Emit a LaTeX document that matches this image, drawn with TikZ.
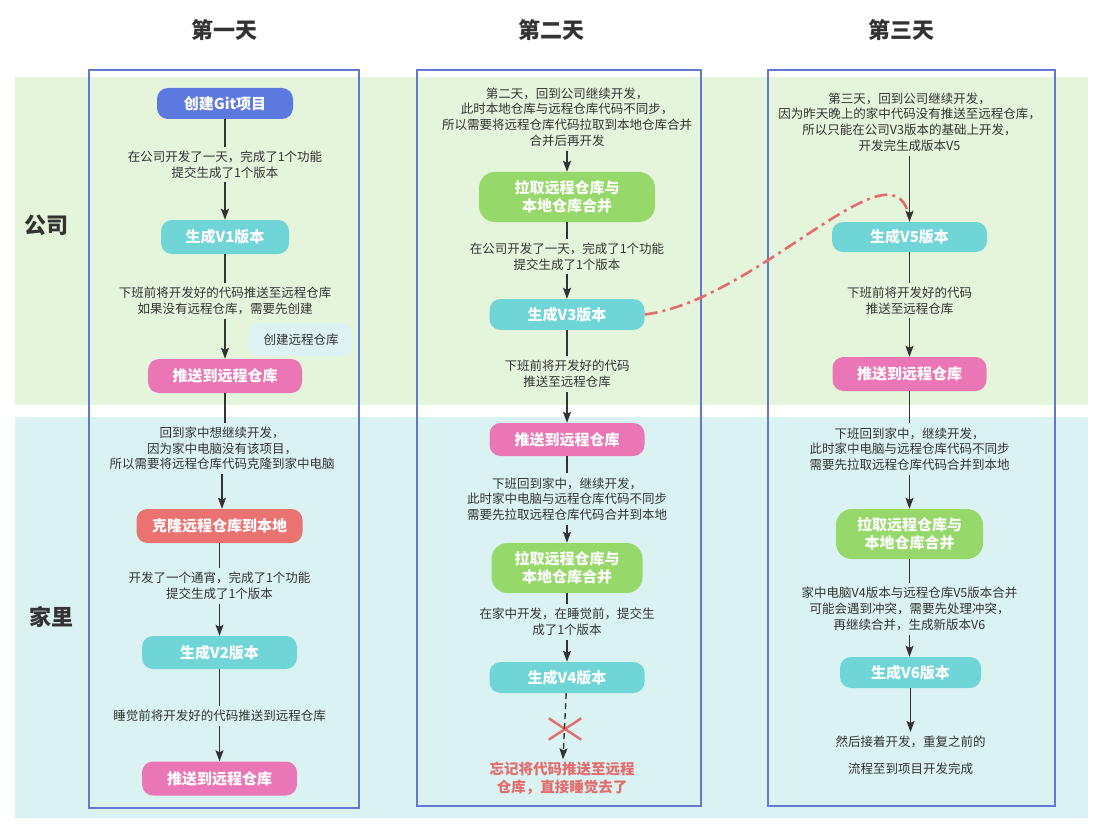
\documentclass[tikz,border=0pt]{standalone}
\usepackage{fontspec}
\setmainfont{Noto Sans CJK SC}
\usetikzlibrary{arrows.meta,shapes.misc}

\definecolor{bandgreen}{HTML}{E5F5DC}
\definecolor{bandblue}{HTML}{DAF3F2}
\definecolor{framebl}{HTML}{6478D2}
\definecolor{gitblue}{HTML}{5C79E0}
\definecolor{vteal}{HTML}{70D5D6}
\definecolor{pushpink}{HTML}{EA76B6}
\definecolor{clonered}{HTML}{EA7270}
\definecolor{pullgreen}{HTML}{97D86B}
\definecolor{remotecyan}{HTML}{DCF2F4}
\definecolor{warnred}{HTML}{E46C6C}
\definecolor{txtgray}{HTML}{333333}

\begin{document}
\begin{tikzpicture}[x=1pt,y=-1pt,
    head/.style={font=\fontsize{22}{26}\selectfont\bfseries, text=txtgray},
    lbl/.style={align=center, text=txtgray, inner sep=4pt,
      font=\fontsize{12.5}{15.7}\selectfont},
    box/.style={rounded corners=11pt, align=center, text=white, inner sep=0pt,
      minimum width=155pt, minimum height=32pt,
      font=\fontsize{15}{18}\selectfont\bfseries},
    pull/.style={box, fill=pullgreen, rounded corners=16pt, minimum height=50pt},
    frame/.style={draw=framebl, line width=1.6pt},
    link/.style={draw=txtgray, line width=1.4pt},
    flow/.style={link, -{Stealth[length=11pt,width=8pt,inset=2pt]}}]
  \useasboundingbox (0,0) rectangle (1106,832);

  %% bands: company / home
  \fill[bandgreen] (15,77) rectangle (1088,405);
  \fill[bandblue] (15,417) rectangle (1088,818);

  %% day frames
  \draw[frame] (89,70) rectangle (359,808);
  \draw[frame] (417,70) rectangle (701,806);
  \draw[frame] (768,70) rectangle (1055,806);

  \node (H1) at (224,30) [head] {第一天};
  \node (H2) at (551,30) [head] {第二天};
  \node (H3) at (901,30) [head] {第三天};
  \node (ROWA) at (46,225) [head] {公司};
  \node (ROWB) at (51,617) [head] {家里};

  %% day 1
  \node (d1n1) at (225,103.5) [box, fill=gitblue, minimum width=136pt, minimum height=31pt] {创建Git项目};
  \node (d1t1) at (225,164.5) [lbl] {在公司开发了一天，完成了1个功能\\提交生成了1个版本};
  \node (d1n2) at (225,237) [box, fill=vteal, minimum width=128pt, minimum height=34pt] {生成V1版本};
  \node (d1t2) at (225,301) [lbl] {下班前将开发好的代码推送至远程仓库\\如果没有远程仓库，需要先创建};
  \node (d1rm) at (301,339.5) [box, fill=remotecyan, text=txtgray, minimum width=104pt, minimum height=33pt,
    font=\fontsize{12.5}{15}\selectfont] {创建远程仓库};
  \node (d1n3) at (225,376) [box, fill=pushpink, minimum width=154pt, minimum height=34pt] {推送到远程仓库};
  \node (d1t3) at (222,448.5) [lbl] {回到家中想继续开发，\\因为家中电脑没有该项目，\\所以需要将远程仓库代码克隆到家中电脑};
  \node (d1n4) at (219.5,526) [box, fill=clonered, minimum width=166pt, minimum height=34pt] {克隆远程仓库到本地};
  \node (d1t4) at (219.5,586) [lbl] {开发了一个通宵，完成了1个功能\\提交生成了1个版本};
  \node (d1n5) at (219.5,652.5) [box, fill=vteal, minimum height=33pt] {生成V2版本};
  \node (d1t5) at (219.5,716) [lbl] {睡觉前将开发好的代码推送到远程仓库};
  \node (d1n6) at (219.5,778.5) [box, fill=pushpink, minimum height=34pt] {推送到远程仓库};

  \draw[link] (d1n1) -- (d1t1);
  \draw[flow] (d1t1) -- (d1n2);
  \draw[link] (d1n2) -- (d1t2);
  \draw[flow] (d1t2) -- (d1n3);
  \draw[link] (d1n3.south) -- (d1n3.south |- d1t3.north);
  \draw[flow] (d1t3.south) -- (d1t3.south |- d1n4.north);
  \draw[link] (d1n4) -- (d1t4);
  \draw[flow] (d1t4) -- (d1n5);
  \draw[link] (d1n5) -- (d1t5);
  \draw[flow] (d1t5) -- (d1n6);

  %% day 2
  \node (d2t1) at (567,117) [lbl] {第二天，回到公司继续开发，\\此时本地仓库与远程仓库代码不同步，\\所以需要将远程仓库代码拉取到本地仓库合并\\合并后再开发};
  \node (d2n1) at (567,197) [pull, minimum width=176pt] {拉取远程仓库与\\本地仓库合并};
  \node (d2t2) at (567,256.5) [lbl] {在公司开发了一天，完成了1个功能\\提交生成了1个版本};
  \node (d2n2) at (567,314.5) [box, fill=vteal, minimum height=31pt] {生成V3版本};
  \node (d2t3) at (567,374) [lbl] {下班前将开发好的代码\\推送至远程仓库};
  \node (d2n3) at (567,439.5) [box, fill=pushpink, minimum height=33pt] {推送到远程仓库};
  \node (d2t4) at (567,499) [lbl] {下班回到家中，继续开发，\\此时家中电脑与远程仓库代码不同步\\需要先拉取远程仓库代码合并到本地};
  \node (d2n4) at (567,568) [pull, minimum width=151pt] {拉取远程仓库与\\本地仓库合并};
  \node (d2t5) at (567,622) [lbl] {在家中开发，在睡觉前，提交生\\成了1个版本};
  \node (d2n5) at (567,677.5) [box, fill=vteal, minimum height=31pt] {生成V4版本};
  \node (d2x) at (565,729) [cross out, draw=warnred, line width=2.4pt, minimum width=30pt, minimum height=19pt] {};
  \node (d2t6) at (562,778) [align=center, text=warnred, inner sep=2pt,
    font=\fontsize{14.5}{18}\selectfont\bfseries] {忘记将代码推送至远程\\仓库，直接睡觉去了};

  \draw[flow] (d2t1) -- (d2n1);
  \draw[link] (d2n1) -- (d2t2);
  \draw[flow] (d2t2) -- (d2n2);
  \draw[link] (d2n2) -- (d2t3);
  \draw[flow] (d2t3) -- (d2n3);
  \draw[link] (d2n3) -- (d2t4);
  \draw[flow] (d2t4) -- (d2n4);
  \draw[link] (d2n4) -- (d2t5);
  \draw[flow] (d2t5) -- (d2n5);
  \draw[flow, dash pattern=on 6pt off 4pt] (d2n5) -- (d2t6);

  %% day 3
  \node (d3t1) at (909.5,122) [lbl] {第三天，回到公司继续开发，\\因为昨天晚上的家中代码没有推送至远程仓库，\\所以只能在公司V3版本的基础上开发，\\开发完生成版本V5};
  \node (d3n1) at (909.5,237) [box, fill=vteal, minimum height=30pt] {生成V5版本};
  \node (d3t2) at (909.5,300.5) [lbl] {下班前将开发好的代码\\推送至远程仓库};
  \node (d3n2) at (909.5,374) [box, fill=pushpink, minimum width=154pt, minimum height=34pt] {推送到远程仓库};
  \node (d3t3) at (909.5,449) [lbl] {下班回到家中，继续开发，\\此时家中电脑与远程仓库代码不同步\\需要先拉取远程仓库代码合并到本地};
  \node (d3n3) at (909.5,534) [pull, minimum width=147pt] {拉取远程仓库与\\本地仓库合并};
  \node (d3t4) at (909.5,609) [lbl] {家中电脑V4版本与远程仓库V5版本合并\\可能会遇到冲突，需要先处理冲突，\\再继续合并，生成新版本V6};
  \node (d3n4) at (910.5,672.5) [box, fill=vteal, minimum width=141pt, minimum height=31pt] {生成V6版本};
  \node (d3t5) at (910.5,755.5) [lbl, font=\fontsize{12.5}{27}\selectfont] {然后接着开发，重复之前的\\流程至到项目开发完成};

  %% V3 carried over to day 3
  \draw[warnred, line width=2.6pt, dash pattern=on 13pt off 5pt on 3pt off 5pt]
    (d2n2.east) .. controls (760,300) and (900,130) .. (d3n1.north);

  \draw[flow] (d3t1) -- (d3n1);
  \draw[link] (d3n1) -- (d3t2);
  \draw[flow] (d3t2) -- (d3n2);
  \draw[link] (d3n2) -- (d3t3);
  \draw[flow] (d3t3) -- (d3n3);
  \draw[link] (d3n3) -- (d3t4);
  \draw[flow] (d3t4.south) -- (d3t4.south |- d3n4.north);
  \draw[flow] (d3n4) -- (d3t5);

\end{tikzpicture}
\end{document}
